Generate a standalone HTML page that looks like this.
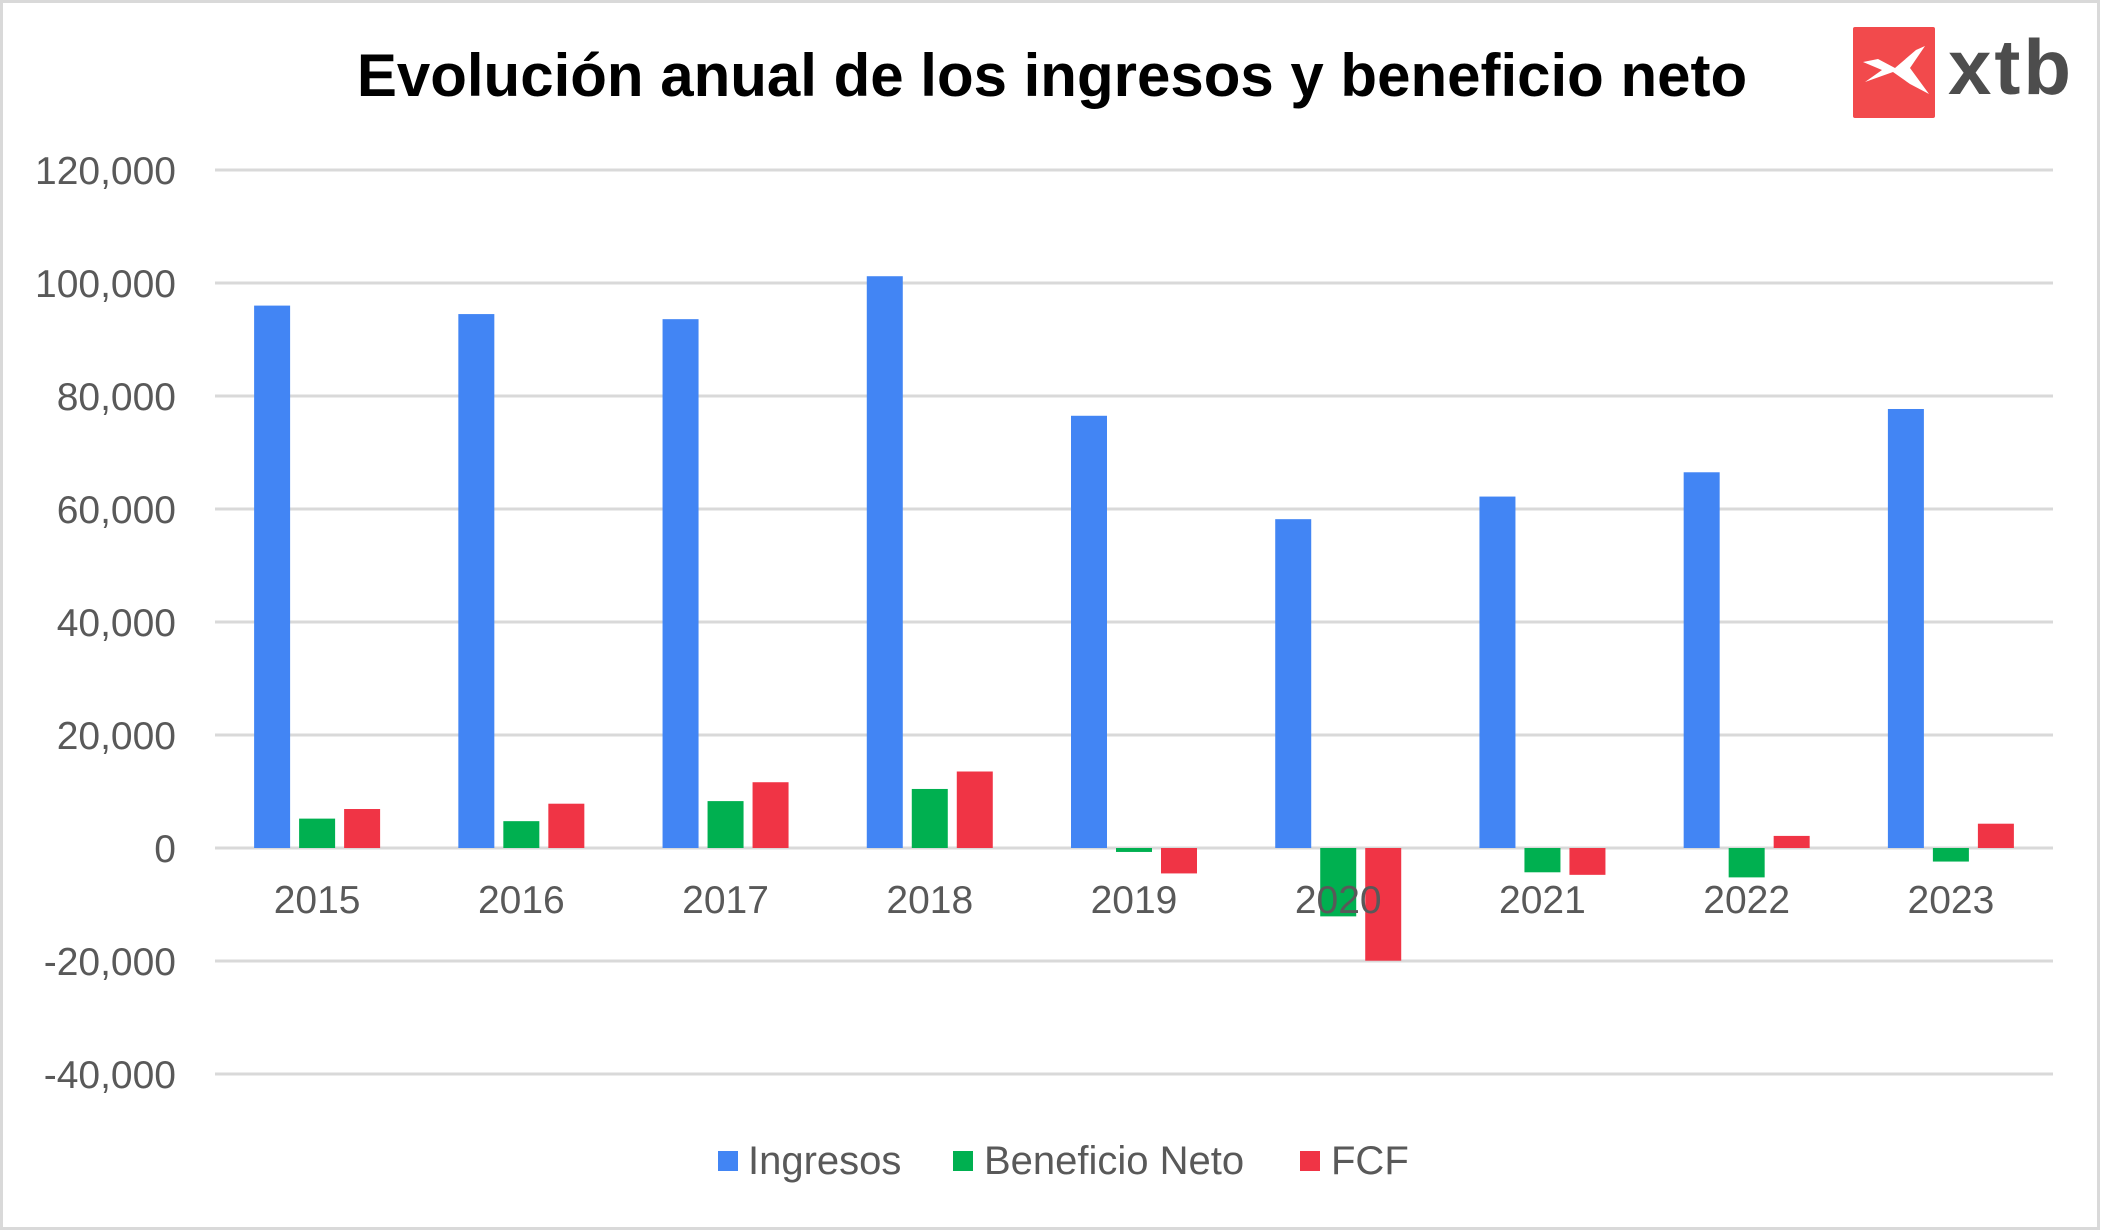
<!DOCTYPE html>
<html><head><meta charset="utf-8"><style>
html,body{margin:0;padding:0;background:#fff}
#wrap{position:relative;width:2104px;height:1231px;overflow:hidden}
svg text{font-family:"Liberation Sans",sans-serif}
</style></head><body>
<div id="wrap">
<svg id="chart" width="2104" height="1231" xmlns="http://www.w3.org/2000/svg">
<rect x="1.5" y="1.5" width="2097" height="1227" fill="#fff" stroke="#d9d9d9" stroke-width="3"/>
<text x="1052" y="96" text-anchor="middle" font-size="60" font-weight="bold" fill="#000">Evolución anual de los ingresos y beneficio neto</text>
<g>
<rect x="1853" y="27" width="82" height="91" rx="2" fill="#f24a4c"/>
<path d="M1863 62 L1878 59 L1895 68 L1916 50 L1925 46 L1910 68 L1929 94 L1910 84 L1893 72 L1865 82 L1882 70 Z" fill="#fff"/>
<text x="1948" y="94" font-size="78" font-weight="bold" letter-spacing="3" fill="#4d4d4d">xtb</text>
</g>
<g id="grid"></g><g id="bars"></g><g id="labels"></g>
<g>
<rect x="718" y="1151" width="20" height="20" fill="#4285f4"/>
<text x="748" y="1174" font-size="40" fill="#595959">Ingresos</text>
<rect x="953" y="1151" width="20" height="20" fill="#00b050"/>
<text x="984" y="1174" font-size="40" fill="#595959">Beneficio Neto</text>
<rect x="1300" y="1151" width="20" height="20" fill="#f03445"/>
<text x="1331" y="1174" font-size="40" fill="#595959">FCF</text>
</g>
</svg>
</div>
<script>
const categories=["2015","2016","2017","2018","2019","2020","2021","2022","2023"];
const ingresos=[96000,94500,93600,101200,76500,58200,62200,66500,77700];
const beneficio=[5200,4750,8300,10450,-700,-12100,-4300,-5200,-2400];
const fcf=[6900,7840,11640,13540,-4500,-19950,-4750,2140,4300];
const ticks=[-40000,-20000,0,20000,40000,60000,80000,100000,120000];
const tickLabels=["-40,000","-20,000","0","20,000","40,000","60,000","80,000","100,000","120,000"];
const NS="http://www.w3.org/2000/svg";
const left=215,right=2053,y0=848,pxPer=113/20000;
function y(v){return y0-v*pxPer;}
function xc(i){return left+(right-left)/categories.length*(i+0.5);}
const grid=document.getElementById('grid'),bars=document.getElementById('bars'),labels=document.getElementById('labels');
ticks.forEach((t,i)=>{
 const l=document.createElementNS(NS,'line');
 l.setAttribute('x1',left);l.setAttribute('x2',right);l.setAttribute('y1',y(t));l.setAttribute('y2',y(t));
 l.setAttribute('stroke','#d9d9d9');l.setAttribute('stroke-width','3');
 
 
 grid.appendChild(l);
 const tx=document.createElementNS(NS,'text');
 tx.setAttribute('x',176);tx.setAttribute('y',y(t)+14);tx.setAttribute('text-anchor','end');
 tx.setAttribute('font-size','39');tx.setAttribute('fill','#595959');tx.textContent=tickLabels[i];
 
 
 labels.appendChild(tx);
});
const series=[[ingresos,'#4285f4',-45,'bar-ingresos'],[beneficio,'#00b050',0,'bar-beneficio'],[fcf,'#f03445',45,'bar-fcf']];
categories.forEach((c,i)=>{
 series.forEach(s=>{
  const v=s[0][i];const r=document.createElementNS(NS,'rect');
  r.setAttribute('x',xc(i)+s[2]-18);r.setAttribute('width',36);
  r.setAttribute('y',Math.min(y(v),y0));r.setAttribute('height',Math.abs(y(v)-y0));
  r.setAttribute('fill',s[1]);
  
  
  bars.appendChild(r);
 });
 const tx=document.createElementNS(NS,'text');
 tx.setAttribute('x',xc(i));tx.setAttribute('y',913);tx.setAttribute('text-anchor','middle');
 tx.setAttribute('font-size','39');tx.setAttribute('fill','#595959');tx.textContent=c;
 
 
 labels.appendChild(tx);
});
</script>
</body></html>
